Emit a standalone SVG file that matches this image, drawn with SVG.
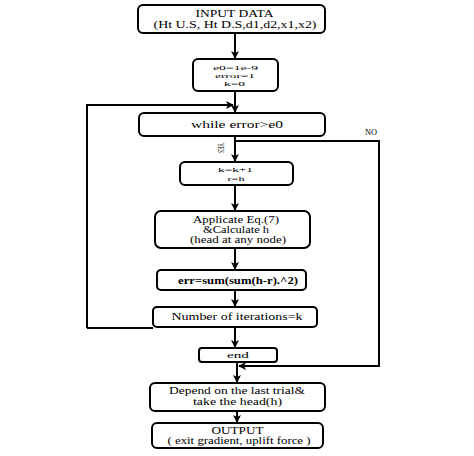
<svg xmlns="http://www.w3.org/2000/svg" width="474" height="456" viewBox="0 0 474 456">
<defs>
<marker id="ah" markerWidth="8" markerHeight="8" refX="7" refY="4" orient="auto" markerUnits="userSpaceOnUse">
<path d="M0,0 L8,4 L0,8 L2,4 Z" fill="#000"/>
</marker>
<style>
.box{fill:#fff;stroke:#000;stroke-width:2}
.ln{fill:none;stroke:#000;stroke-width:2}
text{font-family:"Liberation Serif","Times New Roman",serif;font-size:9.5px;fill:#000;text-anchor:middle}
.s{font-size:8px}
.t{font-size:7px}
</style>
</defs>
<rect width="474" height="456" fill="#fff"/>
<g id="connectors">
<path class="ln" d="M235,33 V58" marker-end="url(#ah)"/>
<path class="ln" d="M235,91 V112" marker-end="url(#ah)"/>
<path class="ln" d="M87,328 H153 M87,328 V105 H233" marker-end="url(#ah)"/>
<path class="ln" d="M235,136 V161" marker-end="url(#ah)"/>
<path class="ln" d="M235,141 H379 V366 H239" marker-end="url(#ah)"/>
<path class="ln" d="M235,185 V210" marker-end="url(#ah)"/>
<path class="ln" d="M235,248 V269" marker-end="url(#ah)"/>
<path class="ln" d="M235,290 V306" marker-end="url(#ah)"/>
<path class="ln" d="M235,327 V347" marker-end="url(#ah)"/>
<path class="ln" d="M237,362 V382" marker-end="url(#ah)"/>
<path class="ln" d="M237,411 V422" marker-end="url(#ah)"/>
<text x="371" y="135" class="s" textLength="12" lengthAdjust="spacingAndGlyphs">NO</text>
<text transform="translate(218,148) rotate(90)" class="s" textLength="10" lengthAdjust="spacingAndGlyphs">YES</text>
</g>
<g id="input">
<rect class="box" x="138" y="5" width="187" height="28" rx="5"/>
<text x="234.5" y="17" textLength="78" lengthAdjust="spacingAndGlyphs">INPUT DATA</text>
<text x="235" y="28" textLength="163" lengthAdjust="spacingAndGlyphs">(Ht U.S, Ht  D.S,d1,d2,x1,x2)</text>
</g>
<g id="init">
<rect class="box" x="193" y="59" width="85" height="32" rx="5"/>
<text x="235.5" y="70" class="t" textLength="45" lengthAdjust="spacingAndGlyphs">e0=1e-9</text>
<text x="235" y="78" class="t" textLength="40" lengthAdjust="spacingAndGlyphs">error=1</text>
<text x="234.5" y="86" class="t" textLength="21" lengthAdjust="spacingAndGlyphs">k=0</text>
</g>
<g id="while">
<rect class="box" x="139" y="113" width="186" height="23" rx="5"/>
<text x="237" y="128" textLength="92" lengthAdjust="spacingAndGlyphs">while  error&gt;e0</text>
</g>
<g id="update">
<rect class="box" x="180" y="162" width="113" height="23" rx="5"/>
<text x="235.5" y="172" class="t" textLength="35" lengthAdjust="spacingAndGlyphs">k=k+1</text>
<text x="236" y="181" class="t" textLength="17" lengthAdjust="spacingAndGlyphs">r=h</text>
</g>
<g id="applicate">
<rect class="box" x="155" y="211" width="155" height="37" rx="6"/>
<text x="236" y="223" textLength="86" lengthAdjust="spacingAndGlyphs">Applicate Eq.(7)</text>
<text x="236" y="233" textLength="66" lengthAdjust="spacingAndGlyphs">&amp;Calculate h</text>
<text x="238" y="243" textLength="96" lengthAdjust="spacingAndGlyphs">(head at any node)</text>
</g>
<g id="err">
<rect class="box" x="157" y="270" width="149" height="20" rx="4"/>
<text x="238" y="284" style="font-weight:bold" textLength="120" lengthAdjust="spacingAndGlyphs">err=sum(sum(h-r).^2)</text>
</g>
<g id="iter">
<rect class="box" x="153" y="307" width="164" height="20" rx="4"/>
<text x="237" y="320" textLength="131" lengthAdjust="spacingAndGlyphs">Number of iterations=k</text>
</g>
<g id="end">
<rect class="box" x="199" y="348" width="78" height="14" rx="3"/>
<text x="238" y="358" class="s" textLength="22" lengthAdjust="spacingAndGlyphs">end</text>
</g>
<g id="depend">
<rect class="box" x="150" y="383" width="175" height="28" rx="5"/>
<text x="237" y="394" textLength="136" lengthAdjust="spacingAndGlyphs">Depend  on  the  last  trial&amp;</text>
<text x="237.5" y="405" textLength="89" lengthAdjust="spacingAndGlyphs">take  the  head(h)</text>
</g>
<g id="output">
<rect class="box" x="152" y="423" width="171" height="25" rx="5"/>
<text x="237.5" y="434" textLength="52" lengthAdjust="spacingAndGlyphs">OUTPUT</text>
<text x="239" y="444" textLength="143" lengthAdjust="spacingAndGlyphs">( exit gradient, uplift force )</text>
</g>
</svg>
